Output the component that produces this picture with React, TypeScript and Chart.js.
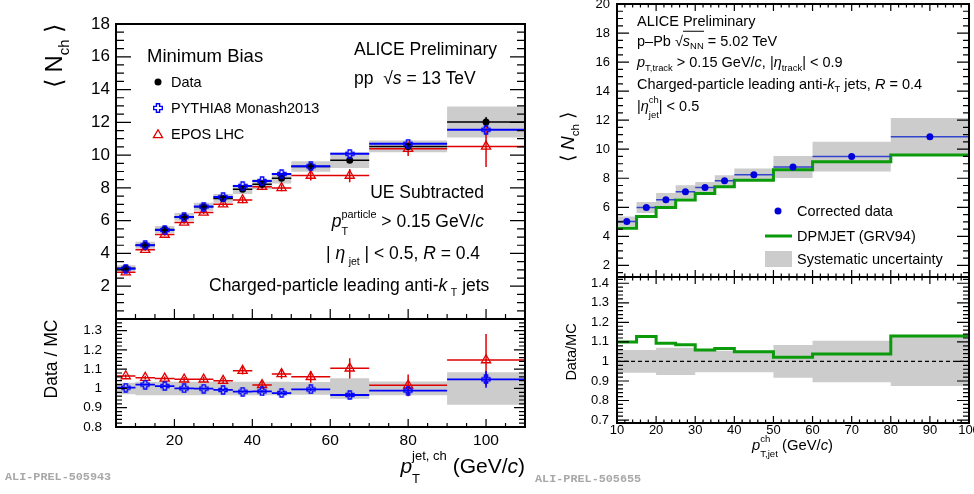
import React, { useEffect, useRef } from 'react';
import { Chart, registerables } from 'chart.js';

Chart.register(...registerables);

const FONT = "'Liberation Sans', Arial, Helvetica, sans-serif";
const MONO = "'Liberation Mono', 'DejaVu Sans Mono', monospace";

// ---------------- pp 13 TeV (left panel) ----------------
const ppBinLo = [5, 10, 15, 20, 25, 30, 35, 40, 45, 50, 60, 70, 90];
const ppBinHi = [10, 15, 20, 25, 30, 35, 40, 45, 50, 60, 70, 90, 110];
const ppBinCenter = [7.5, 12.5, 17.5, 22.5, 27.5, 32.5, 37.5, 42.5, 47.5, 55, 65, 80, 100];
const ppData = [3.1, 4.5, 5.46, 6.23, 6.85, 7.36, 7.91, 8.22, 8.59, 9.3, 9.69, 10.53, 12.02];
const ppDataStat = [0.02, 0.02, 0.03, 0.03, 0.03, 0.04, 0.04, 0.05, 0.06, 0.07, 0.1, 0.12, 0.3];
const ppDataSys = [0.18, 0.22, 0.22, 0.24, 0.25, 0.26, 0.28, 0.3, 0.32, 0.32, 0.47, 0.36, 0.95];
const ppPythia = [3.07, 4.5, 5.43, 6.22, 6.86, 7.44, 8.12, 8.42, 8.85, 9.32, 10.08, 10.69, 11.55];
const ppEpos = [2.86, 4.23, 5.15, 5.89, 6.5, 7.0, 7.26, 8.07, 8.0, 8.75, 8.75, 10.39, 10.53];
const ppEposStat = [0.05, 0.06, 0.07, 0.08, 0.1, 0.12, 0.2, 0.15, 0.2, 0.3, 0.4, 0.44, 1.25];
const ppRatioPythia = [1.004, 1.02, 1.012, 1.0, 0.999, 0.992, 0.983, 0.985, 0.976, 0.995, 0.966, 0.989, 1.047];
const ppRatioPythiaStat = [0.004, 0.004, 0.004, 0.005, 0.005, 0.006, 0.006, 0.007, 0.008, 0.01, 0.012, 0.02, 0.043];
const ppRatioEpos = [1.064, 1.056, 1.052, 1.047, 1.047, 1.04, 1.092, 1.018, 1.075, 1.06, 1.104, 1.016, 1.147];
const ppRatioEposStat = [0.008, 0.01, 0.01, 0.012, 0.014, 0.016, 0.02, 0.02, 0.025, 0.03, 0.053, 0.056, 0.135];
const ppRatioSys = [0.03, 0.035, 0.035, 0.035, 0.035, 0.035, 0.035, 0.035, 0.035, 0.033, 0.053, 0.036, 0.084];
const ppYTicks = [2, 4, 6, 8, 10, 12, 14, 16, 18];
const ppRatioTicks = [0.8, 0.9, 1.0, 1.1, 1.2, 1.3];
const ppXTicks = [20, 40, 60, 80, 100];

// ---------------- p-Pb 5.02 TeV (right panel) ----------------
const pPbBinLo = [10, 15, 20, 25, 30, 35, 40, 50, 60, 80];
const pPbBinHi = [15, 20, 25, 30, 35, 40, 50, 60, 80, 100];
const pPbBinCenter = [12.5, 17.5, 22.5, 27.5, 32.5, 37.5, 45, 55, 70, 90];
const pPbData = [5.03, 5.99, 6.52, 7.07, 7.36, 7.82, 8.25, 8.78, 9.49, 10.86];
const pPbSys = [0.34, 0.38, 0.46, 0.45, 0.38, 0.39, 0.43, 0.76, 1.03, 1.29];
const pPbDpmjet = [4.55, 5.36, 5.99, 6.5, 6.95, 7.41, 7.87, 8.58, 9.14, 9.6];
const pPbRatio = [1.1, 1.127, 1.093, 1.085, 1.059, 1.066, 1.05, 1.022, 1.038, 1.13];
const pPbRatioSys = [0.058, 0.058, 0.07, 0.07, 0.055, 0.055, 0.055, 0.084, 0.106, 0.126];
const pPbYTicks = [2, 4, 6, 8, 10, 12, 14, 16, 18, 20];
const pPbRatioTicks = [0.7, 0.8, 0.9, 1.0, 1.1, 1.2, 1.3, 1.4];
const pPbXTicks = [10, 20, 30, 40, 50, 60, 70, 80, 90, 100];

// ---------------- helpers building library data ----------------
const stepPts = (lo: number[], hi: number[], v: number[]) =>
  lo.flatMap((l, i) => [{ x: l, y: v[i] }, { x: hi[i], y: v[i] }]);
const segPts = (lo: number[], hi: number[], v: number[]) =>
  lo.flatMap((l, i) => [{ x: l, y: v[i] }, { x: hi[i], y: v[i] }, { x: hi[i], y: null as any }]);
const errPts = (xc: number[], v: number[], e: number[]) =>
  xc.flatMap((x, i) => [{ x, y: v[i] - e[i] }, { x, y: v[i] + e[i] }, { x, y: null as any }]);
const markPts = (xc: number[], v: number[]) => xc.map((x, i) => ({ x, y: v[i] }));
const plus = (a: number[], b: number[], s = 1) => a.map((v, i) => v + s * b[i]);
const ones = (n: number) => new Array(n).fill(1);

const GREY = '#cccccc';
const BLUE = '#0000ff';
const RED = '#e00000';
const GREEN = '#0a9a0a';

function band(lo: number[], hi: number[], center: number[], err: number[]) {
  return [
    { data: stepPts(lo, hi, plus(center, err, 1)), borderWidth: 0, pointRadius: 0, fill: false, order: 20 },
    { data: stepPts(lo, hi, plus(center, err, -1)), borderWidth: 0, pointRadius: 0, fill: '-1', backgroundColor: GREY, order: 20 },
  ];
}
function lineDs(data: any[], color: string, width: number, order = 5, extra: any = {}) {
  return { data, borderColor: color, borderWidth: width, pointRadius: 0, fill: false, spanGaps: false, order, ...extra };
}
function markerDs(data: any[], style: any, radius: number, bg: string, border: string, bw: number, order: number) {
  return {
    data, showLine: false, pointStyle: style, pointRadius: radius, pointBackgroundColor: bg,
    pointBorderColor: border, pointBorderWidth: bw, order,
  };
}

function makeOpenCross(color: string, size: number, lw: number) {
  const c = document.createElement('canvas');
  c.width = size; c.height = size;
  const g = c.getContext('2d')!;
  const m = size / 2, a = lw / 2 + 0.3, b = size - a, w = size * 0.16;
  g.beginPath();
  g.moveTo(m - w, a); g.lineTo(m + w, a); g.lineTo(m + w, m - w); g.lineTo(b, m - w);
  g.lineTo(b, m + w); g.lineTo(m + w, m + w); g.lineTo(m + w, b); g.lineTo(m - w, b);
  g.lineTo(m - w, m + w); g.lineTo(a, m + w); g.lineTo(a, m - w); g.lineTo(m - w, m - w);
  g.closePath();
  g.strokeStyle = color; g.lineWidth = lw; g.stroke();
  return c;
}

type FrameOpts = {
  xMajor: number; xMinor: number; yMajor: number; yMinor: number;
  xMajLen: number; xMinLen: number; yMajLen: number; yMinLen: number;
  lw: number; top: boolean; bottom: boolean; right: boolean;
};
function makeFrame(o: FrameOpts) {
  return {
    id: 'rootFrame',
    afterDatasetsDraw(chart: any) {
      const { ctx, chartArea: a, scales } = chart;
      const xs = scales.x, ys = scales.y;
      const iter = (min: number, max: number, step: number, cb: (v: number) => void) => {
        const n0 = Math.ceil(min / step - 1e-6), n1 = Math.floor(max / step + 1e-6);
        for (let n = n0; n <= n1; n++) cb(n * step);
      };
      const isMaj = (v: number, m: number) => Math.abs(v / m - Math.round(v / m)) < 1e-4;
      ctx.save();
      ctx.strokeStyle = '#000';
      ctx.lineWidth = 1.2;
      ctx.beginPath();
      iter(xs.min, xs.max, o.xMinor, (v) => {
        const p = xs.getPixelForValue(v);
        const len = isMaj(v, o.xMajor) ? o.xMajLen : o.xMinLen;
        if (o.bottom) { ctx.moveTo(p, a.bottom); ctx.lineTo(p, a.bottom - len); }
        if (o.top) { ctx.moveTo(p, a.top); ctx.lineTo(p, a.top + len); }
      });
      iter(ys.min, ys.max, o.yMinor, (v) => {
        const p = ys.getPixelForValue(v);
        const len = isMaj(v, o.yMajor) ? o.yMajLen : o.yMinLen;
        ctx.moveTo(a.left, p); ctx.lineTo(a.left + len, p);
        if (o.right) { ctx.moveTo(a.right, p); ctx.lineTo(a.right - len, p); }
      });
      ctx.stroke();
      ctx.lineWidth = o.lw;
      ctx.strokeRect(a.left, a.top, a.right - a.left, a.bottom - a.top);
      ctx.restore();
    },
  };
}

const fmt = (v: number) => String(Number(Number(v).toFixed(2)));

function yScale(min: number, max: number, ticks: number[], width: number, size: number, pad: number, hideZero = false) {
  return {
    type: 'linear', min, max,
    grid: { display: false, drawTicks: false },
    border: { display: false },
    ticks: {
      autoSkip: false, padding: pad, color: '#000', font: { family: FONT, size },
      callback: (v: any) => (hideZero && Number(v) === 0 ? '' : fmt(v)),
    },
    afterBuildTicks: (s: any) => { s.ticks = ticks.map((v) => ({ value: v })); },
    afterFit: (s: any) => { s.width = width; s.paddingTop = 0; s.paddingBottom = 0; },
  };
}
function xScale(min: number, max: number, ticks: number[] | null, height: number, size: number, pad: number) {
  if (!ticks) return { type: 'linear', min, max, display: false };
  return {
    type: 'linear', min, max,
    grid: { display: false, drawTicks: false },
    border: { display: false },
    ticks: { autoSkip: false, maxRotation: 0, padding: pad, color: '#000', font: { family: FONT, size }, callback: (v: any) => fmt(v) },
    afterBuildTicks: (s: any) => { s.ticks = ticks.map((v) => ({ value: v })); },
    afterFit: (s: any) => { s.height = height; s.paddingLeft = 0; s.paddingRight = 0; },
  };
}
function cfg(datasets: any[], x: any, y: any, padding: any, frame: FrameOpts) {
  return {
    type: 'line',
    data: { datasets },
    options: {
      responsive: false, animation: false, events: [],
      layout: { padding },
      plugins: { legend: { display: false }, tooltip: { enabled: false }, title: { display: false } },
      scales: { x, y },
    },
    plugins: [makeFrame(frame)],
  };
}

// ---------------- chart configs ----------------
function configA() {
  const cross = makeOpenCross(BLUE, 10, 1.4);
  return cfg(
    [
      ...band(ppBinLo, ppBinHi, ppData, ppDataSys),
      lineDs(segPts(ppBinLo, ppBinHi, ppEpos), RED, 1.5, 6),
      lineDs(segPts(ppBinLo, ppBinHi, ppData), '#000', 1.5, 5),
      lineDs(segPts(ppBinLo, ppBinHi, ppPythia), BLUE, 2, 4),
      lineDs(errPts(ppBinCenter, ppEpos, ppEposStat), RED, 1.5, 6),
      lineDs(errPts(ppBinCenter, ppData, ppDataStat), '#000', 1.5, 5),
      markerDs(markPts(ppBinCenter, ppEpos), 'triangle', 5.3, 'rgba(0,0,0,0)', RED, 1.3, 3),
      markerDs(markPts(ppBinCenter, ppData), 'circle', 3.5, '#000', '#000', 0, 2),
      markerDs(markPts(ppBinCenter, ppPythia), cross, 5, BLUE, BLUE, 0, 1),
    ],
    xScale(5, 110, null, 0, 0, 0),
    yScale(0, 18, ppYTicks, 116, 17, 6, true),
    { left: 0, top: 24, right: 15, bottom: 11 },
    { xMajor: 20, xMinor: 5, yMajor: 2, yMinor: 0.5, xMajLen: 10, xMinLen: 5, yMajLen: 15, yMinLen: 8, lw: 2, top: false, bottom: true, right: true },
  );
}
function configB() {
  const cross = makeOpenCross(BLUE, 10, 1.4);
  return cfg(
    [
      ...band(ppBinLo, ppBinHi, ones(ppBinLo.length), ppRatioSys),
      lineDs(segPts(ppBinLo, ppBinHi, ppRatioEpos), RED, 1.5, 6),
      lineDs(segPts(ppBinLo, ppBinHi, ppRatioPythia), BLUE, 1.8, 5),
      lineDs(errPts(ppBinCenter, ppRatioEpos, ppRatioEposStat), RED, 1.5, 6),
      lineDs(errPts(ppBinCenter, ppRatioPythia, ppRatioPythiaStat), BLUE, 1.5, 5),
      markerDs(markPts(ppBinCenter, ppRatioEpos), 'triangle', 5.3, 'rgba(0,0,0,0)', RED, 1.3, 2),
      markerDs(markPts(ppBinCenter, ppRatioPythia), cross, 5, BLUE, BLUE, 0, 1),
    ],
    xScale(5, 110, ppXTicks, 67, 15.5, 4),
    yScale(0.8, 1.36, ppRatioTicks, 116, 13.5, 14),
    { left: 0, top: 19, right: 15, bottom: 0 },
    { xMajor: 20, xMinor: 5, yMajor: 0.1, yMinor: 0.02, xMajLen: 8, xMinLen: 4, yMajLen: 11, yMinLen: 6, lw: 2, top: false, bottom: true, right: true },
  );
}
function configC() {
  return cfg(
    [
      ...band(pPbBinLo, pPbBinHi, pPbData, pPbSys),
      lineDs(stepPts(pPbBinLo, pPbBinHi, pPbDpmjet), GREEN, 3, 5),
      lineDs(segPts(pPbBinLo, pPbBinHi, pPbData), '#3344cc', 1.5, 4),
      markerDs(markPts(pPbBinCenter, pPbData), 'circle', 3.5, '#0000dd', '#0000dd', 0, 1),
    ],
    xScale(10, 100, null, 0, 0, 0),
    yScale(1.2, 20, pPbYTicks, 57, 13, 7),
    { left: 0, top: 2, right: 5, bottom: 10 },
    { xMajor: 10, xMinor: 2, yMajor: 2, yMinor: 0.5, xMajLen: 7, xMinLen: 3.5, yMajLen: 12, yMinLen: 6, lw: 2, top: true, bottom: true, right: true },
  );
}
function configD() {
  return cfg(
    [
      ...band(pPbBinLo, pPbBinHi, ones(pPbBinLo.length), pPbRatioSys),
      lineDs([{ x: pPbBinLo[0], y: 1 }, { x: pPbBinHi[pPbBinHi.length - 1], y: 1 }], '#000', 1.3, 3, { borderDash: [4, 3] }),
      lineDs(stepPts(pPbBinLo, pPbBinHi, pPbRatio), GREEN, 3, 2),
    ],
    xScale(10, 100, pPbXTicks, 71, 13, 0),
    yScale(0.685, 1.432, pPbRatioTicks, 57, 13, 8),
    { left: 0, top: 10, right: 5, bottom: 0 },
    { xMajor: 10, xMinor: 2, yMajor: 0.1, yMinor: 0.02, xMajLen: 7, xMinLen: 3.5, yMajLen: 12, yMinLen: 6, lw: 2, top: true, bottom: true, right: true },
  );
}

function ChartCanvas({ left, top, width, height, make }: any) {
  const ref = useRef<HTMLCanvasElement>(null);
  useEffect(() => {
    const chart = new Chart(ref.current as HTMLCanvasElement, make() as any);
    return () => chart.destroy();
  }, []);
  return <canvas ref={ref} width={width} height={height} style={{ position: 'absolute', left, top, width, height }} />;
}

// ---------------- text helpers ----------------
function T({ x, y, size, align = 'left', rotate = false, children, style = {} }: any) {
  const s: any = { position: 'absolute', top: y, fontSize: size, lineHeight: 1, whiteSpace: 'nowrap', fontFamily: FONT, color: '#000' };
  if (rotate) { s.left = x; s.transform = 'translate(-50%,-50%) rotate(-90deg)'; }
  else if (align === 'right') { s.right = 974 - x; s.transform = 'translateY(-50%)'; }
  else { s.left = x; s.transform = 'translateY(-50%)'; }
  return <div style={{ ...s, ...style }}>{children}</div>;
}
function Sub({ children, size = 0.65, dy = 0.45 }: any) {
  return <span style={{ fontSize: `${size}em`, position: 'relative', top: `${dy}em` }}>{children}</span>;
}
function Stack({ sup, sub, size = 0.62, supDy = -0.2, subDy = 0.33 }: any) {
  return (
    <span style={{ display: 'inline-flex', flexDirection: 'column', justifyContent: 'center', height: 0, verticalAlign: 'middle', fontSize: `${size}em`, lineHeight: 1 }}>
      <span style={{ position: 'relative', top: `${supDy}em` }}>{sup}</span>
      <span style={{ position: 'relative', top: `${subDy}em` }}>{sub}</span>
    </span>
  );
}

export default function App() {
  const crossPath = (cx: number, cy: number, r: number, w: number) =>
    `M${cx - w},${cy - r}H${cx + w}V${cy - w}H${cx + r}V${cy + w}H${cx + w}V${cy + r}H${cx - w}V${cy + w}H${cx - r}V${cy - w}H${cx - w}Z`;
  const tri = (cx: number, cy: number, r: number) =>
    `${cx},${cy - r} ${cx + r * 0.866},${cy + r / 2} ${cx - r * 0.866},${cy + r / 2}`;
  return (
    <div style={{ position: 'absolute', left: 0, top: 0, width: 974, height: 494, background: '#fff', overflow: 'hidden' }}>
      <ChartCanvas left={0} top={0} width={540} height={330} make={configA} />
      <ChartCanvas left={0} top={300} width={540} height={194} make={configB} />
      <ChartCanvas left={560} top={0} width={414} height={287} make={configC} />
      <ChartCanvas left={560} top={267} width={414} height={227} make={configD} />

      <svg style={{ position: 'absolute', left: 0, top: 0 }} width={974} height={494}>
        <circle cx={158} cy={82} r={3.5} fill="#000" />
        <path d={crossPath(158, 108, 4.3, 1.6)} fill="none" stroke={BLUE} strokeWidth={1.4} />
        <polygon points={tri(158, 135, 5.3)} fill="none" stroke={RED} strokeWidth={1.3} />
        <circle cx={778} cy={211} r={3.5} fill="#0000dd" />
        <line x1={765} y1={236} x2={792} y2={236} stroke={GREEN} strokeWidth={3} />
        <rect x={765} y={251} width={27} height={16} fill={GREY} />
      </svg>

      {/* left panel texts */}
      <T x={147} y={56} size={18.5}>Minimum Bias</T>
      <T x={171} y={82} size={14.5}>Data</T>
      <T x={171} y={108} size={14.5}>PYTHIA8 Monash2013</T>
      <T x={171} y={134} size={14.5}>EPOS LHC</T>
      <T x={497} y={50} size={17.5} align="right">ALICE Preliminary</T>
      <T x={354} y={79} size={17.5}>pp&nbsp; √<i>s</i> = 13 TeV</T>
      <T x={484} y={193} size={17.5} align="right">UE Subtracted</T>
      <T x={484} y={222} size={17.5} align="right"><i>p</i><Stack sup="particle" sub="T" /> &gt; 0.15 GeV/<i>c</i></T>
      <T x={326} y={254} size={17.5}>| <i>η</i>&thinsp;<Sub size={0.6} dy={0.6}>jet</Sub> | &lt; 0.5, <i>R</i> = 0.4</T>
      <T x={209} y={286} size={17.5}>Charged-particle leading anti-<i>k</i>&thinsp;<Sub size={0.6} dy={0.5}>T</Sub> jets</T>
      <T x={54} y={56} size={24} rotate>⟨ N<Sub size={0.62} dy={0.45}>ch</Sub> ⟩</T>
      <T x={52} y={359} size={17.5} rotate>Data / MC</T>
      <T x={525} y={465} size={21} align="right"><i>p</i><Stack sup="jet, ch" sub="T" size={0.62} supDy={-0.45} subDy={0.35} /> (GeV/<i>c</i>)</T>
      <T x={5} y={478} size={11.8} style={{ fontFamily: MONO, fontWeight: 'bold', color: '#a8a8a8' }}>ALI-PREL-505943</T>

      {/* right panel texts */}
      <T x={637} y={21} size={14.5}>ALICE Preliminary</T>
      <T x={637} y={41} size={14.5}>p–Pb √<span style={{ borderTop: '1px solid #000', paddingTop: 1 }}><i>s</i><Sub size={0.65} dy={0.35}>NN</Sub></span> = 5.02 TeV</T>
      <T x={637} y={62} size={14.5}><i>p</i><Sub size={0.65} dy={0.45}>T,track</Sub> &gt; 0.15 GeV/<i>c</i>, |<i>η</i><Sub size={0.65} dy={0.45}>track</Sub>| &lt; 0.9</T>
      <T x={637} y={84} size={14.5}>Charged-particle leading anti-<i>k</i><Sub size={0.65} dy={0.35}>T</Sub> jets, <i>R</i> = 0.4</T>
      <T x={637} y={106} size={14.5}>|<i>η</i><Stack sup="ch" sub="jet" size={0.65} supDy={-0.3} subDy={0.35} />| &lt; 0.5</T>
      <T x={797} y={211} size={14.5}>Corrected data</T>
      <T x={797} y={236} size={14.5}>DPMJET (GRV94)</T>
      <T x={797} y={259} size={14.5}>Systematic uncertainty</T>
      <T x={567} y={137} size={19} rotate>⟨ <i>N</i><Sub size={0.62} dy={0.45}>ch</Sub> ⟩</T>
      <T x={571} y={352} size={14.5} rotate>Data/MC</T>
      <T x={752} y={445} size={14.8}><i>p</i><Stack sup="ch" sub="T,jet" size={0.65} supDy={-0.25} subDy={0.3} /> (GeV/<i>c</i>)</T>
      <T x={535} y={480} size={11.8} style={{ fontFamily: MONO, fontWeight: 'bold', color: '#a8a8a8' }}>ALI-PREL-505655</T>
    </div>
  );
}
